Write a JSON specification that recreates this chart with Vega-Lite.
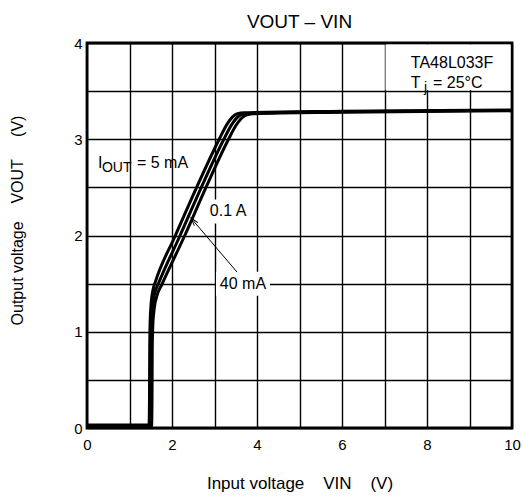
{
  "$schema": "https://vega.github.io/schema/vega-lite/v6.json",
  "width": 425,
  "height": 385,
  "autosize": {"type": "none"},
  "padding": {"left": 87, "top": 43, "right": 11, "bottom": 71},
  "background": "white",
  "config": {
    "view": {"stroke": "black", "strokeWidth": 2.8},
    "font": "Liberation Sans",
    "axis": {
      "grid": true, "gridColor": "black", "gridWidth": 1.4, "gridOpacity": 1,
      "domain": false, "ticks": false,
      "labelColor": "black", "labelFont": "Liberation Sans", "labelFontSize": 15,
      "titleColor": "black", "titleFont": "Liberation Sans", "titleFontWeight": "normal"
    }
  },
  "title": {"text": "VOUT – VIN", "fontSize": 19, "fontWeight": "normal", "color": "black", "font": "Liberation Sans", "offset": 4},
  "datasets": {
    "curves": [
      {"series": "5 mA", "x": 0, "y": 0.03}, {"series": "5 mA", "x": 1.46, "y": 0.03}, {"series": "5 mA", "x": 1.47, "y": 0.3},
      {"series": "5 mA", "x": 1.475, "y": 0.8}, {"series": "5 mA", "x": 1.485, "y": 1.1}, {"series": "5 mA", "x": 1.51, "y": 1.3},
      {"series": "5 mA", "x": 1.555, "y": 1.44}, {"series": "5 mA", "x": 1.61, "y": 1.52}, {"series": "5 mA", "x": 2.08, "y": 2.0},
      {"series": "5 mA", "x": 2.58, "y": 2.5}, {"series": "5 mA", "x": 3.11, "y": 3.0}, {"series": "5 mA", "x": 3.3, "y": 3.16},
      {"series": "5 mA", "x": 3.42, "y": 3.23}, {"series": "5 mA", "x": 3.54, "y": 3.265}, {"series": "5 mA", "x": 3.7, "y": 3.275},
      {"series": "5 mA", "x": 6, "y": 3.29}, {"series": "5 mA", "x": 10, "y": 3.305},
      {"series": "40 mA", "x": 0, "y": 0.025}, {"series": "40 mA", "x": 1.49, "y": 0.025}, {"series": "40 mA", "x": 1.5, "y": 0.3},
      {"series": "40 mA", "x": 1.505, "y": 0.8}, {"series": "40 mA", "x": 1.515, "y": 1.1}, {"series": "40 mA", "x": 1.545, "y": 1.28},
      {"series": "40 mA", "x": 1.6, "y": 1.41}, {"series": "40 mA", "x": 1.68, "y": 1.5}, {"series": "40 mA", "x": 2.19, "y": 2.0},
      {"series": "40 mA", "x": 2.69, "y": 2.5}, {"series": "40 mA", "x": 3.22, "y": 3.0}, {"series": "40 mA", "x": 3.4, "y": 3.15},
      {"series": "40 mA", "x": 3.52, "y": 3.22}, {"series": "40 mA", "x": 3.64, "y": 3.258}, {"series": "40 mA", "x": 3.8, "y": 3.27},
      {"series": "40 mA", "x": 6, "y": 3.285}, {"series": "40 mA", "x": 10, "y": 3.3},
      {"series": "0.1 A", "x": 0, "y": 0.02}, {"series": "0.1 A", "x": 1.52, "y": 0.02}, {"series": "0.1 A", "x": 1.53, "y": 0.3},
      {"series": "0.1 A", "x": 1.535, "y": 0.8}, {"series": "0.1 A", "x": 1.55, "y": 1.08}, {"series": "0.1 A", "x": 1.585, "y": 1.25},
      {"series": "0.1 A", "x": 1.65, "y": 1.38}, {"series": "0.1 A", "x": 1.76, "y": 1.49}, {"series": "0.1 A", "x": 2.3, "y": 2.0},
      {"series": "0.1 A", "x": 2.8, "y": 2.5}, {"series": "0.1 A", "x": 3.33, "y": 3.0}, {"series": "0.1 A", "x": 3.5, "y": 3.14},
      {"series": "0.1 A", "x": 3.62, "y": 3.21}, {"series": "0.1 A", "x": 3.74, "y": 3.25}, {"series": "0.1 A", "x": 3.9, "y": 3.265},
      {"series": "0.1 A", "x": 6, "y": 3.28}, {"series": "0.1 A", "x": 10, "y": 3.295}
    ],
    "legendbox": [{"x": 7, "x2": 10, "y": 3.5, "y2": 4}],
    "boxed": [{"text": "0.1 A", "x": 3.32, "y": 2.25}, {"text": "40 mA", "x": 3.67, "y": 1.5}],
    "arrow": [{"x": 3.53, "y": 1.62, "x2": 2.45, "y2": 2.18}],
    "tip": [{"x": 2.45, "y": 2.18}],
    "plain": [
      {"text": "I", "x": 0.26, "y": 2.7},
      {"text": "= 5 mA", "x": 1.176, "y": 2.7},
      {"text": "TA48L033F", "x": 7.62, "y": 3.74},
      {"text": "T", "x": 7.62, "y": 3.53},
      {"text": "= 25°C", "x": 8.14, "y": 3.53}
    ],
    "subs": [{"text": "OUT", "x": 0.35, "y": 2.66}, {"text": "j", "x": 7.93, "y": 3.49}]
  },
  "encoding": {
    "x": {
      "field": "x", "type": "quantitative",
      "scale": {"domain": [0, 10], "nice": false, "zero": false},
      "axis": {
        "values": [0, 1, 2, 3, 4, 5, 6, 7, 8, 9, 10],
        "labelExpr": "datum.value % 2 === 0 ? format(datum.value, 'd') : ''",
        "labelFlush": false, "labelOverlap": false, "labelPadding": 9,
        "title": "Input voltage\u00a0\u00a0\u00a0\u00a0VIN\u00a0\u00a0\u00a0\u00a0(V)",
        "titleFontSize": 17, "titleY": 60, "titleBaseline": "alphabetic"
      }
    },
    "y": {
      "field": "y", "type": "quantitative",
      "scale": {"domain": [0, 4], "nice": false, "zero": false},
      "axis": {
        "values": [0, 0.5, 1, 1.5, 2, 2.5, 3, 3.5, 4],
        "labelExpr": "datum.value % 1 === 0 ? format(datum.value, 'd') : ''",
        "labelFlush": false, "labelOverlap": false, "labelPadding": 5,
        "title": "Output voltage\u00a0\u00a0\u00a0\u00a0VOUT\u00a0\u00a0\u00a0\u00a0\u00a0(V)",
        "titleFontSize": 16, "titleX": -70, "titleY": 177, "titleAngle": 270,
        "titleAlign": "center", "titleBaseline": "middle"
      }
    }
  },
  "layer": [
    {
      "data": {"name": "legendbox"},
      "mark": {"type": "rect", "fill": "white", "xOffset": 1, "x2Offset": -1.5, "yOffset": -1, "y2Offset": 1.5},
      "encoding": {"x2": {"field": "x2"}, "y2": {"field": "y2"}}
    },
    {
      "data": {"name": "boxed"},
      "mark": {"type": "rect", "fill": "white", "width": 54, "height": 24}
    },
    {
      "data": {"name": "curves"},
      "mark": {"type": "line", "color": "black", "strokeWidth": 3, "interpolate": "monotone"},
      "encoding": {"detail": {"field": "series"}}
    },
    {
      "data": {"name": "arrow"},
      "mark": {"type": "rule", "color": "black", "strokeWidth": 1},
      "encoding": {"x2": {"field": "x2"}, "y2": {"field": "y2"}}
    },
    {
      "data": {"name": "tip"},
      "mark": {"type": "point", "shape": "M -0.6 2 L 0 0 L 0.6 2", "filled": false, "color": "black", "strokeWidth": 1, "size": 60, "angle": 320, "opacity": 1}
    },
    {
      "data": {"name": "boxed"},
      "mark": {"type": "text", "fontSize": 16, "align": "center", "baseline": "middle", "color": "black", "font": "Liberation Sans"},
      "encoding": {"text": {"field": "text"}}
    },
    {
      "data": {"name": "plain"},
      "mark": {"type": "text", "fontSize": 16, "align": "left", "baseline": "alphabetic", "color": "black", "font": "Liberation Sans"},
      "encoding": {"text": {"field": "text"}}
    },
    {
      "data": {"name": "subs"},
      "mark": {"type": "text", "fontSize": 14, "align": "left", "baseline": "alphabetic", "color": "black", "font": "Liberation Sans"},
      "encoding": {"text": {"field": "text"}}
    }
  ]
}
